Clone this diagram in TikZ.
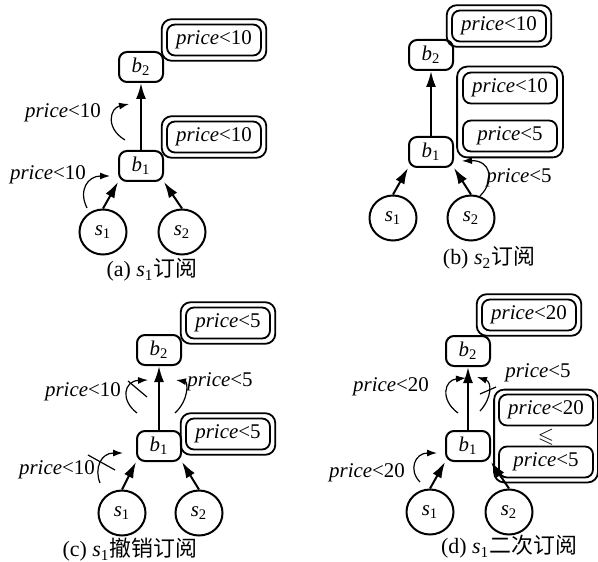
\documentclass[tikz,border=0pt]{standalone}
\usepackage{fontspec}
\usepackage{amssymb}
\setmainfont{Liberation Serif}
\newfontfamily\cjk{Noto Sans CJK SC}
\usetikzlibrary{arrows.meta,shapes.geometric,fit}

% filter condition and indexed names
\newcommand{\cond}[1]{\textit{price}<#1}
\newcommand{\vname}[2]{\textit{#1}\textsubscript{#2}}

\tikzset{
  broker/.style={draw, line width=1bp, rounded corners=4bp, minimum width=22bp, minimum height=15bp, inner sep=0pt},
  client/.style={draw, ellipse, line width=1bp, minimum width=23.5bp, minimum height=22.5bp, inner sep=0pt},
  entry/.style={draw, line width=0.9bp, rounded corners=4bp, minimum width=47bp, minimum height=15.5bp, inner sep=0pt},
  ftable/.style={draw, line width=0.9bp, rounded corners=5bp, inner sep=2.2bp},
  link/.style={line width=1bp, -{Latex[length=8bp,width=5bp]}},
  flow/.style={line width=0.6bp, -{Latex[length=5bp,width=3.5bp]}},
  cut/.style={line width=0.6bp},
  caption/.style={font=\fontsize{11}{13}\selectfont},
}

\begin{document}
\begin{tikzpicture}[x=0.5bp,y=-0.5bp,every node/.style={font=\fontsize{10.5}{12}\selectfont}]

    \useasboundingbox (0,0) rectangle (598,562);

    % ---------- (a) s1 subscribes ----------
    \node[broker] (a-b2) at (141,67) {\vname{b}{2}};
    \node[broker] (a-b1) at (141,166) {\vname{b}{1}};
    \node[client] (a-s1) at (103,232) {\vname{s}{1}};
    \node[client] (a-s2) at (182,232) {\vname{s}{2}};

    \draw[link] (a-s1.north) -- (a-b1.south west);
    \draw[link] (a-s2.north) -- (a-b1.south east);
    \draw[link] (a-b1) -- (a-b2);

    % filter tables
    \node[entry] (a-f1) at (214,40) {\cond{10}};
    \node[ftable, fit=(a-f1)] (a-t1) {};
    \node[entry] (a-f2) at (214,137) {\cond{10}};
    \node[ftable, fit=(a-f2)] (a-t2) {};

    % forwarded subscriptions
    \coordinate (a-u1) at (125,140);
    \coordinate (a-u2) at (129,104);
    \draw[flow] (a-u1) .. controls (105,128) and (110,108) .. (a-u2);
    \node (a-l1) at (63,113) {\cond{10}};
    \coordinate (a-d1) at (87,208);
    \coordinate (a-d2) at (110,176);
    \draw[flow] (a-d1) .. controls (78,190) and (88,176) .. (a-d2);
    \node (a-l2) at (48,175) {\cond{10}};

    \node[caption] (a-cap) at (152,270) {(a) \vname{s}{1}{\cjk 订阅}};

    % ---------- (b) s2 subscribes ----------
    \node[broker] (b-b2) at (431,55) {\vname{b}{2}};
    \node[broker] (b-b1) at (431,152) {\vname{b}{1}};
    \node[client] (b-s1) at (393,218) {\vname{s}{1}};
    \node[client] (b-s2) at (471,218) {\vname{s}{2}};

    \draw[link] (b-s1.north) -- (b-b1.south west);
    \draw[link] (b-s2.north) -- (b-b1.south east);
    \draw[link] (b-b1) -- (b-b2);

    \node[entry] (b-f1) at (499,26) {\cond{10}};
    \node[ftable, fit=(b-f1)] (b-t1) {};
    \node[entry] (b-f2) at (510,88) {\cond{10}};
    \node[entry] (b-f3) at (510,136) {\cond{5}};
    \node[ftable, fit=(b-f2)(b-f3), inner sep=2.5bp] (b-t2) {};

    \coordinate (b-d1) at (480,196);
    \coordinate (b-d2) at (462,161);
    \draw[flow] (b-d1) .. controls (496,180) and (490,160) .. (b-d2);
    \node (b-l1) at (519,178) {\cond{5}};

    \node[caption] (b-cap) at (489,258) {(b) \vname{s}{2}{\cjk 订阅}};

    % ---------- (c) s1 unsubscribes ----------
    \node[broker] (c-b2) at (159,350) {\vname{b}{2}};
    \node[broker] (c-b1) at (159,446) {\vname{b}{1}};
    \node[client] (c-s1) at (122,513) {\vname{s}{1}};
    \node[client] (c-s2) at (199,513) {\vname{s}{2}};

    \draw[link] (c-s1.north) -- (c-b1.south west);
    \draw[link] (c-s2.north) -- (c-b1.south east);
    \draw[link] (c-b1) -- (c-b2);

    \node[entry, minimum width=42bp] (c-f1) at (228,323) {\cond{5}};
    \node[ftable, fit=(c-f1)] (c-t1) {};
    \node[entry, minimum width=42bp] (c-f2) at (228,434) {\cond{5}};
    \node[ftable, fit=(c-f2)] (c-t2) {};

    % withdrawn subscription (crossed out)
    \coordinate (c-u1) at (137,413);
    \coordinate (c-u2) at (148,380);
    \draw[flow] (c-u1) .. controls (120,400) and (124,381) .. (c-u2);
    \draw[cut] (128,381) -- (147,397);
    \node (c-l1) at (83,392) {\cond{10}};
    \coordinate (c-d1) at (100,483);
    \coordinate (c-d2) at (123,453);
    \draw[flow] (c-d1) .. controls (94,468) and (101,453) .. (c-d2);
    \draw[cut] (88,455) -- (115,470);
    \node (c-l2) at (57,470) {\cond{10}};
    % new subscription forwarded by b1
    \coordinate (c-v1) at (175,413);
    \coordinate (c-v2) at (176,380);
    \draw[flow] (c-v1) .. controls (189,400) and (188,382) .. (c-v2);
    \node (c-l3) at (220,382) {\cond{5}};

    \node[caption] (c-cap) at (130,550) {(c) \vname{s}{1}{\cjk 撤销订阅}};

    % ---------- (d) s1 subscribes again ----------
    \node[broker] (d-b2) at (468,351) {\vname{b}{2}};
    \node[broker] (d-b1) at (468,446) {\vname{b}{1}};
    \node[client] (d-s1) at (430,512) {\vname{s}{1}};
    \node[client] (d-s2) at (509,512) {\vname{s}{2}};

    \draw[link] (d-s1.north) -- (d-b1.south west);
    \draw[link] (d-s2.north) -- (d-b1.south east);
    \draw[link] (d-b1) -- (d-b2);

    \node[entry] (d-f1) at (529,315) {\cond{20}};
    \node[ftable, fit=(d-f1)] (d-t1) {};
    \node[entry] (d-f2) at (546,410) {\cond{20}};
    \node (d-leq) at (546,437) {$\leqslant$};
    \node[entry] (d-f3) at (546,462) {\cond{5}};
    \node[ftable, fit=(d-f2)(d-f3), inner sep=2bp] (d-t2) {};

    \coordinate (d-u1) at (458,413);
    \coordinate (d-u2) at (466,378);
    \draw[flow] (d-u1) .. controls (440,400) and (444,380) .. (d-u2);
    \node (d-l1) at (391,387) {\cond{20}};
    \coordinate (d-v1) at (480,411);
    \coordinate (d-v2) at (477,377);
    \draw[flow] (d-v1) .. controls (492,398) and (492,382) .. (d-v2);
    \draw[cut] (480,394) -- (496,387);
    \node (d-l2) at (538,373) {\cond{5}};
    \coordinate (d-d1) at (420,482);
    \coordinate (d-d2) at (437,453);
    \draw[flow] (d-d1) .. controls (408,470) and (415,453) .. (d-d2);
    \node (d-l3) at (367,473) {\cond{20}};

    \node[caption] (d-cap) at (509,547) {(d) \vname{s}{1}{\cjk 二次订阅}};

\end{tikzpicture}
\end{document}
